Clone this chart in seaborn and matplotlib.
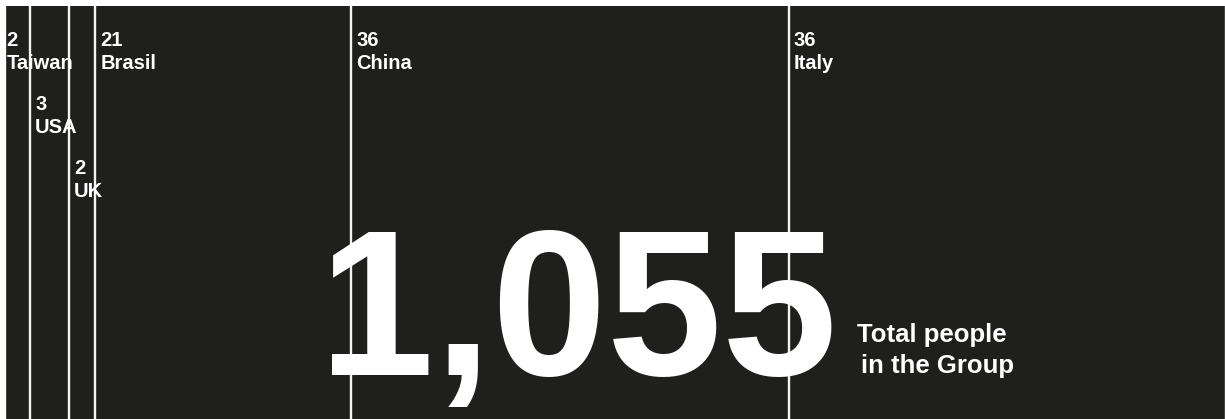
import matplotlib
matplotlib.use("Agg")
import matplotlib.pyplot as plt
import matplotlib.transforms as mtransforms
import seaborn as sns

countries = ["Taiwan", "USA", "UK", "Brasil", "China", "Italy"]
shares = [2, 3, 2, 21, 36, 36]
label_level = [0, 1, 2, 0, 0, 0]
total_people = "1,055"
total_label = ["Total people", "in the Group"]

BG = "#1f1f1e"
FG = "#ffffff"
FONT = ["Liberation Sans", "DejaVu Sans"]
GAP = 0.2  # spacing between segments, in share units

sns.set_style("white")
plt.rcParams["font.family"] = FONT

W, H = 1225, 419
fig = plt.figure(figsize=(W / 100, H / 100), dpi=100)
fig.patch.set_facecolor("white")
ax = fig.add_axes([6 / W, 0, (W - 6) / W, (H - 6) / H])

# stacked bar: draw cumulative totals from largest to smallest so edges show as dividers
cum, starts = [], []
run = 0
for i, s in enumerate(shares):
    starts.append(run + i * GAP)
    run += s
    cum.append(run + (i + 0.5) * GAP)
for c in reversed(cum):
    sns.barplot(x=[c], y=["Group"], orient="h", color=BG, edgecolor="#f4f4f4",
                linewidth=1.7, width=1.0, saturation=1, ax=ax)

ax.set_xlim(0.12, run + (len(shares) - 1) * GAP)
ax.set_ylim(-0.485, 0.485)
ax.set_axis_off()

# labels at the left edge of each segment
trans = mtransforms.blended_transform_factory(ax.transData, fig.transFigure)
for name, val, x0, lvl in zip(countries, shares, starts, label_level):
    off = mtransforms.ScaledTranslation((2 if x0 == 0 else 4) / 100, 0, fig.dpi_scale_trans)
    y_num = 46 + lvl * 64
    ax.text(x0, 1 - y_num / H, str(val), transform=trans + off, color=FG,
            fontsize=14.5, fontweight="bold", va="baseline", ha="left", zorder=5)
    ax.text(x0, 1 - (y_num + 23) / H, name, transform=trans + off, color=FG,
            fontsize=14.5, fontweight="bold", va="baseline", ha="left", zorder=5)

fig.text(319 / W, 1 - 375 / H, total_people, color=FG, fontsize=149,
         fontweight="bold", va="baseline", ha="left", zorder=6)
fig.text(857 / W, 1 - 342 / H, total_label[0], color=FG, fontsize=18.5,
         fontweight="bold", va="baseline", ha="left")
fig.text(861 / W, 1 - 373 / H, total_label[1], color=FG, fontsize=18.5,
         fontweight="bold", va="baseline", ha="left")

fig.savefig("out.png", dpi=100, facecolor=fig.get_facecolor())
